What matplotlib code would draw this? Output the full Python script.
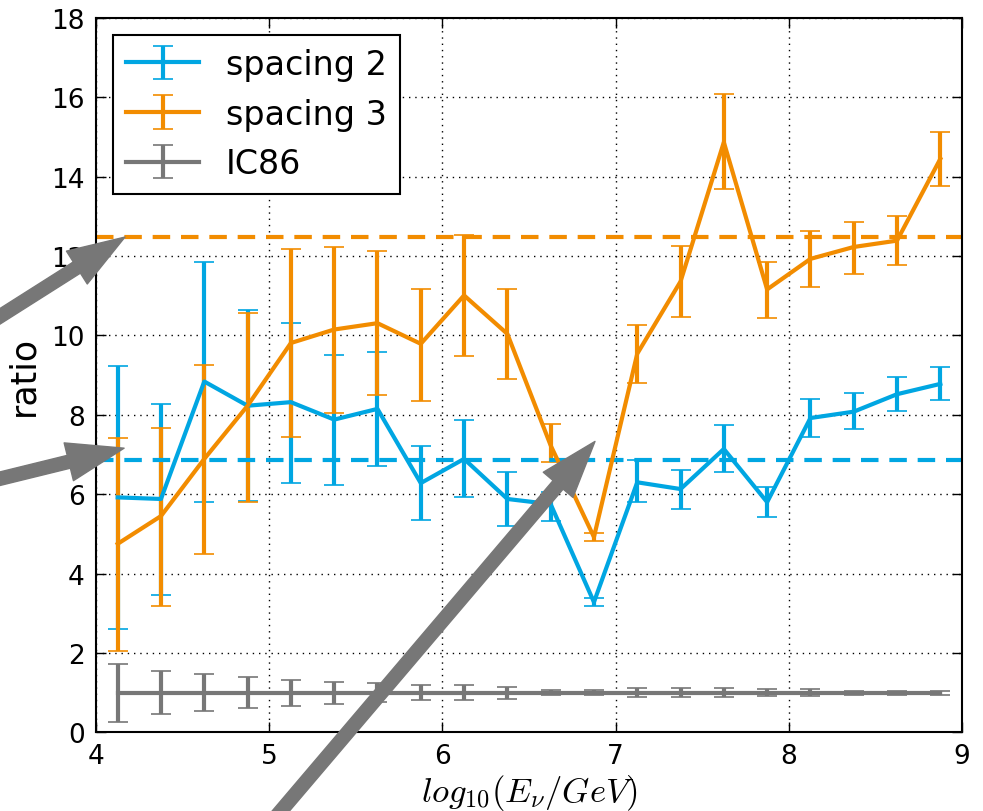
import matplotlib
matplotlib.use("Agg")
import matplotlib.pyplot as plt
import numpy as np

plt.rcParams["font.family"] = ["DejaVu Sans"]
plt.rcParams["mathtext.fontset"] = "cm"

# bin centres in log10(E/GeV)
x = [4.125, 4.375, 4.625, 4.875, 5.125, 5.375, 5.625, 5.875, 6.125, 6.375,
     6.625, 6.875, 7.125, 7.375, 7.625, 7.875, 8.125, 8.375, 8.625, 8.875]

# spacing 2
s2 = [5.92, 5.88, 8.84, 8.23, 8.32, 7.88, 8.15, 6.28, 6.89, 5.88,
      5.75, 3.28, 6.30, 6.13, 7.14, 5.80, 7.92, 8.08, 8.52, 8.78]
s2_lo = [2.60, 3.46, 5.80, 5.84, 6.28, 6.23, 6.70, 5.36, 5.92, 5.21,
         5.33, 3.18, 5.80, 5.63, 6.57, 5.42, 7.45, 7.65, 8.09, 8.38]
s2_hi = [9.23, 8.28, 11.85, 10.63, 10.32, 9.52, 9.58, 7.21, 7.86, 6.55,
         6.06, 3.38, 6.85, 6.62, 7.75, 6.18, 8.40, 8.55, 8.96, 9.21]

# spacing 3
s3 = [4.75, 5.45, 6.89, 8.23, 9.81, 10.15, 10.31, 9.79, 11.01, 10.04,
      7.23, 4.92, 9.54, 11.36, 14.87, 11.16, 11.93, 12.23, 12.39, 14.45]
s3_lo = [2.04, 3.19, 4.49, 5.81, 7.45, 8.04, 8.49, 8.36, 9.49, 8.91,
         6.82, 4.82, 8.81, 10.46, 13.70, 10.44, 11.23, 11.55, 11.78, 13.76]
s3_hi = [7.41, 7.66, 9.26, 10.57, 12.17, 12.23, 12.12, 11.17, 12.52, 11.16,
         7.76, 5.02, 10.27, 12.25, 16.09, 11.86, 12.63, 12.87, 13.00, 15.12]

# IC86 reference
ic86 = [1.0] * 20
ic86_err = [0.73, 0.54, 0.46, 0.39, 0.33, 0.28, 0.24, 0.19, 0.18, 0.15,
            0.07, 0.06, 0.11, 0.11, 0.12, 0.08, 0.08, 0.05, 0.05, 0.05]

mean_s2 = 6.86
mean_s3 = 12.49

c_s2 = "#00a6e2"
c_s3 = "#f28c00"
c_ic = "#777777"

fig = plt.figure(figsize=(9.83, 8.12), dpi=100)
ax = fig.add_axes([0.0977, 0.0969, 0.8809, 0.8797])

def err(v, lo, hi):
    v = np.array(v)
    return [v - np.array(lo), np.array(hi) - v]

ax.errorbar(x, s2, yerr=err(s2, s2_lo, s2_hi), color=c_s2, lw=3,
            elinewidth=3, capsize=7, capthick=1.2, label="spacing 2")
ax.errorbar(x, s3, yerr=err(s3, s3_lo, s3_hi), color=c_s3, lw=3,
            elinewidth=3, capsize=7, capthick=1.2, label="spacing 3")
ax.errorbar(x, ic86, yerr=ic86_err, color=c_ic, lw=3,
            elinewidth=3, capsize=7, capthick=1.2, label="IC86")

ax.axhline(mean_s2, color=c_s2, lw=3, ls=(0, (4.2, 2.6)))
ax.axhline(mean_s3, color=c_s3, lw=3, ls=(0, (4.2, 2.6)))

ax.set_xlim(4, 9)
ax.set_ylim(0, 18)
ax.set_xticks([4, 5, 6, 7, 8, 9])
ax.set_yticks(range(0, 19, 2))
ax.grid(True, color="black", ls=(0, (1, 3.5)), lw=1)
ax.tick_params(direction="in", top=True, right=True, length=7, width=1,
               labelsize=19, pad=8)
for s in ax.spines.values():
    s.set_linewidth(1.5)

ax.set_xlabel(r"$log_{10}(E_\nu/GeV)$", fontsize=25, labelpad=2)
ax.set_ylabel("ratio", fontsize=25, labelpad=8)

leg = ax.legend(loc="upper left", fontsize=24, fancybox=False,
                edgecolor="black", framealpha=1, handlelength=2.2,
                handletextpad=0.8, borderaxespad=0.5, labelspacing=0.5)
leg.get_frame().set_linewidth(1.5)

# arrows pointing at the mean lines and the dip
arrow_kw = dict(facecolor=c_ic, edgecolor=c_ic, width=9.5, headwidth=28,
                headlength=41)
tips = [(4.167, 12.48), (4.162, 7.16), (6.881, 7.33)]
tails = [(-50, 463), (-50, 320), (240, -48)]
for tip, tail in zip(tips, tails):
    ax.annotate("", xy=tip, xycoords="data", xytext=tail,
                textcoords="figure pixels", arrowprops=arrow_kw,
                annotation_clip=False, zorder=5)

fig.savefig("out.png", dpi=100)
